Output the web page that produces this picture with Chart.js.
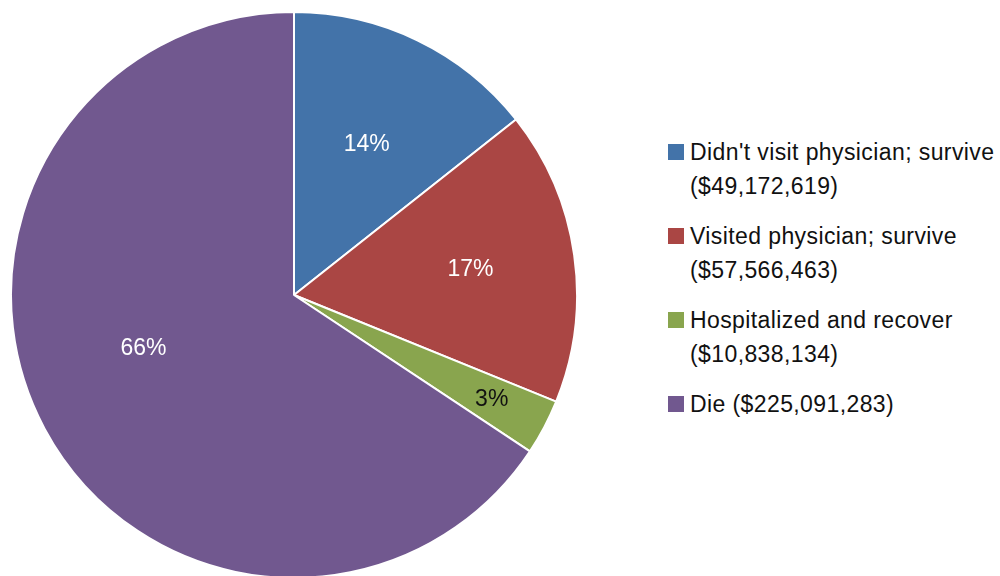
<!DOCTYPE html>
<html>
<head>
<meta charset="utf-8">
<script src="https://cdn.jsdelivr.net/npm/chart.js@4.4.1/dist/chart.umd.min.js"></script>
<style>
    html, body { margin: 0; padding: 0; width: 1000px; height: 576px; overflow: hidden; background: #fff; }
    #wrap { position: absolute; left: 10px; top: 11px; width: 568px; height: 568px; }
    #legend { position: absolute; left: 668px; top: 135px; font-family: "Liberation Sans", Arial, sans-serif; font-size: 23px; letter-spacing: 0.4px; color: #111; }
    .item { position: relative; padding-left: 22px; line-height: 34px; margin-bottom: 16px; }
    .box { position: absolute; left: 0; top: 9px; width: 16px; height: 16px; }
</style>
</head>
<body>
<div id="wrap"><canvas id="grafico"></canvas></div>
<div id="legend"></div>
<script>
const categorias = [
    "Didn't visit physician; survive",
    "Visited physician; survive",
    "Hospitalized and recover",
    "Die"
];
const costos = [49172619, 57566463, 10838134, 225091283];
const etiquetasLeyenda = [
    ["Didn't visit physician; survive", "($49,172,619)"],
    ["Visited physician; survive", "($57,566,463)"],
    ["Hospitalized and recover", "($10,838,134)"],
    ["Die ($225,091,283)"]
];
const colores = ["#4373a9", "#aa4644", "#89a54e", "#71588f"];
const colorTexto = ["#fff", "#fff", "#111", "#fff"];
// distancia de la etiqueta (fracción del radio) y desvío del ángulo
const posEtiqueta = [0.59, 0.63, 0.79, 0.565];
const desvioAngulo = [0, 0, 0, 0.148];

// ➤ Leyenda en HTML
const legendDiv = document.getElementById("legend");
etiquetasLeyenda.forEach((lineas, i) => {
    const item = document.createElement("div");
    item.className = "item";
    item.innerHTML = `<span class="box" style="background:${colores[i]}"></span>` + lineas.join("<br>");
    legendDiv.appendChild(item);
});

// ➤ Porcentajes dentro de cada porción
const etiquetasPie = {
    id: "etiquetasPie",
    afterDatasetsDraw(chart) {
        const ctx = chart.ctx;
        const meta = chart.getDatasetMeta(0);
        const total = costos.reduce((a, b) => a + b, 0);
        ctx.save();
        ctx.font = "23px 'Liberation Sans', Arial, sans-serif";
        ctx.textAlign = "center";
        ctx.textBaseline = "middle";
        meta.data.forEach((arc, i) => {
            const mid = (arc.startAngle + arc.endAngle) / 2 + desvioAngulo[i];
            const r = arc.outerRadius * posEtiqueta[i];
            const x = arc.x + Math.cos(mid) * r;
            const y = arc.y + Math.sin(mid) * r;
            ctx.fillStyle = colorTexto[i];
            ctx.fillText(Math.round(costos[i] / total * 100) + "%", x, y);
        });
        ctx.restore();
    }
};

new Chart(document.getElementById("grafico"), {
    type: "pie",
    data: {
        labels: categorias,
        datasets: [{
            data: costos,
            backgroundColor: colores,
            borderColor: "#fff",
            borderWidth: 2
        }]
    },
    options: {
        responsive: true,
        maintainAspectRatio: false,
        animation: false,
        layout: { padding: 0 },
        plugins: {
            legend: { display: false },
            tooltip: { enabled: false }
        }
    },
    plugins: [etiquetasPie]
});
</script>
</body>
</html>
